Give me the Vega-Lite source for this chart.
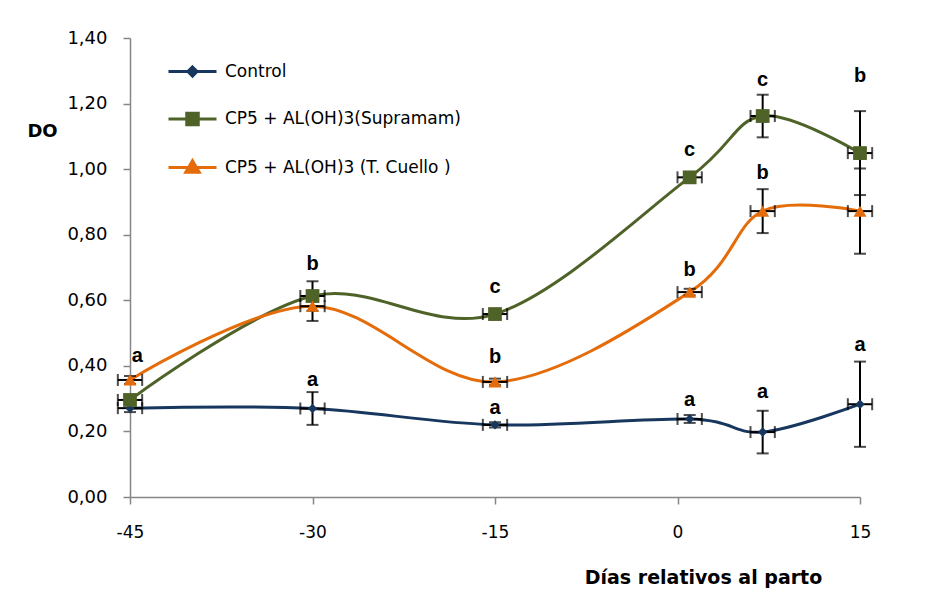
{
  "$schema": "https://vega.github.io/schema/vega-lite/v6.json",
  "width": 730,
  "height": 459,
  "autosize": {"type": "none"},
  "padding": {"left": 130, "top": 38, "right": 78, "bottom": 99},
  "background": "white",
  "datasets": {
    "series": [
      {"series": "Control", "day": -45, "DO": 0.271, "err": 0.012, "xerr": 1},
      {"series": "Control", "day": -30, "DO": 0.270, "err": 0.05, "xerr": 1},
      {"series": "Control", "day": -15, "DO": 0.220, "err": 0.008, "xerr": 1},
      {"series": "Control", "day": 1, "DO": 0.238, "err": 0.012, "xerr": 1},
      {"series": "Control", "day": 7, "DO": 0.198, "err": 0.065, "xerr": 1},
      {"series": "Control", "day": 15, "DO": 0.283, "err": 0.13, "xerr": 1},
      {"series": "CP5 + AL(OH)3(Supramam)", "day": -45, "DO": 0.296, "err": 0.012, "xerr": 1},
      {"series": "CP5 + AL(OH)3(Supramam)", "day": -30, "DO": 0.613, "err": 0.045, "xerr": 1},
      {"series": "CP5 + AL(OH)3(Supramam)", "day": -15, "DO": 0.558, "err": 0.01, "xerr": 1},
      {"series": "CP5 + AL(OH)3(Supramam)", "day": 1, "DO": 0.975, "err": 0.01, "xerr": 1},
      {"series": "CP5 + AL(OH)3(Supramam)", "day": 7, "DO": 1.162, "err": 0.065, "xerr": 1},
      {"series": "CP5 + AL(OH)3(Supramam)", "day": 15, "DO": 1.049, "err": 0.128, "xerr": 1},
      {"series": "CP5 + AL(OH)3  (T. Cuello )", "day": -45, "DO": 0.357, "err": 0.012, "xerr": 1},
      {"series": "CP5 + AL(OH)3  (T. Cuello )", "day": -30, "DO": 0.582, "err": 0.045, "xerr": 1},
      {"series": "CP5 + AL(OH)3  (T. Cuello )", "day": -15, "DO": 0.351, "err": 0.01, "xerr": 1},
      {"series": "CP5 + AL(OH)3  (T. Cuello )", "day": 1, "DO": 0.625, "err": 0.01, "xerr": 1},
      {"series": "CP5 + AL(OH)3  (T. Cuello )", "day": 7, "DO": 0.872, "err": 0.067, "xerr": 1},
      {"series": "CP5 + AL(OH)3  (T. Cuello )", "day": 15, "DO": 0.872, "err": 0.13, "xerr": 1}
    ],
    "letters": [
      {"day": -44.4, "pos": 0.430, "letter": "a"},
      {"day": -30, "pos": 0.710, "letter": "b"},
      {"day": -30, "pos": 0.357, "letter": "a"},
      {"day": -15, "pos": 0.640, "letter": "c"},
      {"day": -15, "pos": 0.427, "letter": "b"},
      {"day": -15, "pos": 0.271, "letter": "a"},
      {"day": 1, "pos": 1.058, "letter": "c"},
      {"day": 1, "pos": 0.692, "letter": "b"},
      {"day": 1, "pos": 0.296, "letter": "a"},
      {"day": 7, "pos": 1.271, "letter": "c"},
      {"day": 7, "pos": 0.988, "letter": "b"},
      {"day": 7, "pos": 0.320, "letter": "a"},
      {"day": 15, "pos": 1.284, "letter": "b"},
      {"day": 15, "pos": 0.463, "letter": "a"}
    ]
  },
  "layer": [
    {
      "data": {"name": "series"},
      "mark": {"type": "line", "interpolate": "cardinal", "strokeWidth": 3},
      "encoding": {
        "x": {
          "field": "day", "type": "quantitative", "title": "Días relativos al parto",
          "scale": {"domain": [-45, 15], "nice": false, "zero": false},
          "axis": {
            "values": [-45, -30, -15, 0, 15],
            "grid": false,
            "domainColor": "#868686", "domainWidth": 1.5,
            "tickColor": "#868686", "tickSize": 7, "tickWidth": 1.5,
            "labelFont": "DejaVu Sans", "labelFontSize": 17, "labelColor": "black",
            "labelPadding": 20,
            "labelFlush": false,
            "titleFont": "DejaVu Sans", "titleFontSize": 19, "titleFontWeight": "bold", "titleColor": "black",
            "titleX": 573, "titleY": 80, "titleAlign": "center", "titleBaseline": "middle"
          }
        },
        "y": {
          "field": "DO", "type": "quantitative", "title": "DO",
          "scale": {"domain": [0, 1.4], "nice": false},
          "axis": {
            "values": [0, 0.2, 0.4, 0.6, 0.8, 1.0, 1.2, 1.4],
            "format": ".2f",
            "grid": false,
            "domainColor": "#868686", "domainWidth": 1.5,
            "tickColor": "#868686", "tickSize": 7, "tickWidth": 1.5,
            "labelFont": "DejaVu Sans", "labelFontSize": 18, "labelColor": "black",
            "labelPadding": 16,
            "titleFont": "DejaVu Sans", "titleFontSize": 18, "titleFontWeight": "bold", "titleColor": "black",
            "titleAngle": 0, "titleX": -88, "titleY": 93, "titleAlign": "center", "titleBaseline": "middle"
          }
        },
        "color": {
          "field": "series", "type": "nominal",
          "scale": {
            "domain": ["Control", "CP5 + AL(OH)3(Supramam)", "CP5 + AL(OH)3  (T. Cuello )"],
            "range": ["#17375E", "#4F6228", "#E46C0A"]
          },
          "legend": {
            "orient": "none", "legendX": 37, "legendY": 8,
            "title": null, "padding": 0, "rowPadding": 10.5,
            "symbolSize": 2304, "symbolStrokeWidth": 3,
            "labelFont": "DejaVu Sans", "labelFontSize": 17, "labelColor": "black",
            "labelOffset": 7, "labelLimit": 0,
            "encode": {
              "symbols": {
                "update": {
                  "shape": {"signal": "datum.value == 'Control' ? 'M-1,0H1M0,-0.19L0.19,0L0,0.19L-0.19,0Z' : (datum.value == 'CP5 + AL(OH)3(Supramam)' ? 'M-1,0H1M-0.24,-0.24H0.24V0.24H-0.24Z' : 'M-1,0H1M0,-0.28L0.28,0.2H-0.28Z')"},
                  "fill": {"scale": "color", "field": "value"}
                }
              }
            }
          }
        }
      }
    },
    {
      "data": {"name": "series"},
      "mark": {"type": "errorbar", "ticks": true, "size": 12, "thickness": 2, "color": "black"},
      "encoding": {
        "x": {"field": "day", "type": "quantitative", "title": "Días relativos al parto"},
        "y": {"field": "DO", "type": "quantitative", "title": "DO"},
        "yError": {"field": "err"}
      }
    },
    {
      "data": {"name": "series"},
      "mark": {"type": "errorbar", "ticks": true, "size": 12, "thickness": 2, "color": "black"},
      "encoding": {
        "y": {"field": "DO", "type": "quantitative", "title": "DO"},
        "x": {"field": "day", "type": "quantitative", "title": "Días relativos al parto"},
        "xError": {"field": "xerr"}
      }
    },
    {
      "data": {"name": "series"},
      "transform": [{"filter": "datum.series == 'Control'"}],
      "mark": {"type": "point", "filled": true, "opacity": 1, "shape": "diamond", "size": 90, "color": "#17375E"},
      "encoding": {
        "x": {"field": "day", "type": "quantitative", "title": "Días relativos al parto"},
        "y": {"field": "DO", "type": "quantitative", "title": "DO"}
      }
    },
    {
      "data": {"name": "series"},
      "transform": [{"filter": "datum.series == 'CP5 + AL(OH)3(Supramam)'"}],
      "mark": {"type": "point", "filled": true, "opacity": 1, "shape": "square", "size": 190, "color": "#4F6228"},
      "encoding": {
        "x": {"field": "day", "type": "quantitative", "title": "Días relativos al parto"},
        "y": {"field": "DO", "type": "quantitative", "title": "DO"}
      }
    },
    {
      "data": {"name": "series"},
      "transform": [{"filter": "datum.series == 'CP5 + AL(OH)3  (T. Cuello )'"}],
      "mark": {"type": "point", "filled": true, "opacity": 1, "shape": "triangle-up", "size": 170, "color": "#E46C0A"},
      "encoding": {
        "x": {"field": "day", "type": "quantitative", "title": "Días relativos al parto"},
        "y": {"field": "DO", "type": "quantitative", "title": "DO"}
      }
    },
    {
      "data": {"name": "letters"},
      "mark": {"type": "text", "font": "Liberation Sans", "fontSize": 20, "fontWeight": "bold", "color": "black", "baseline": "middle", "align": "center"},
      "encoding": {
        "x": {"field": "day", "type": "quantitative", "title": "Días relativos al parto"},
        "y": {"field": "pos", "type": "quantitative", "title": "DO"},
        "text": {"field": "letter"}
      }
    }
  ],
  "config": {
    "view": {"stroke": null},
    "locale": {"number": {"decimal": ",", "thousands": ".", "grouping": [3], "currency": ["", " €"], "minus": "-"}}
  }
}
